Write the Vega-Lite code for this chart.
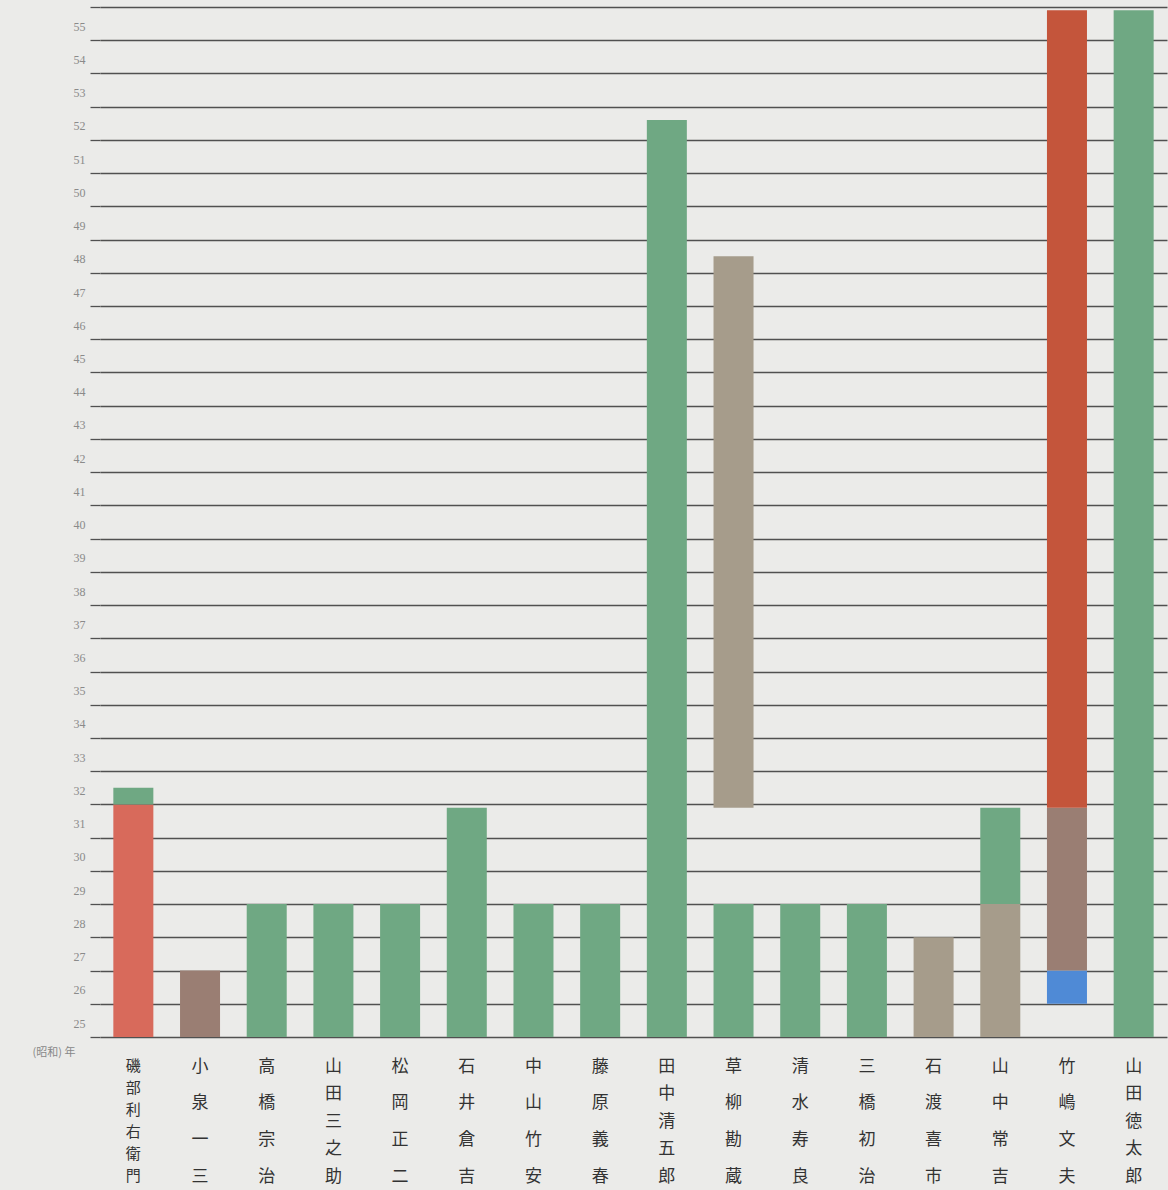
{
  "$schema": "https://vega.github.io/schema/vega-lite/v6.json",
  "autosize": "none",
  "padding": {"left": 100, "top": 7, "right": 1, "bottom": 153},
  "width": 1067,
  "height": 1030,
  "background": "#ebebe9",
  "data": {
    "values": [
      {"name": "磯部利右衛門", "start": 25, "end": 32, "cat": "赤"},
      {"name": "磯部利右衛門", "start": 32, "end": 32.5, "cat": "緑"},
      {"name": "小泉一三", "start": 25, "end": 27, "cat": "茶"},
      {"name": "高橋宗治", "start": 25, "end": 29, "cat": "緑"},
      {"name": "山田三之助", "start": 25, "end": 29, "cat": "緑"},
      {"name": "松岡正二", "start": 25, "end": 29, "cat": "緑"},
      {"name": "石井倉吉", "start": 25, "end": 31.9, "cat": "緑"},
      {"name": "中山竹安", "start": 25, "end": 29, "cat": "緑"},
      {"name": "藤原義春", "start": 25, "end": 29, "cat": "緑"},
      {"name": "田中清五郎", "start": 25, "end": 52.6, "cat": "緑"},
      {"name": "草柳勘蔵", "start": 25, "end": 29, "cat": "緑"},
      {"name": "草柳勘蔵", "start": 31.9, "end": 48.5, "cat": "灰"},
      {"name": "清水寿良", "start": 25, "end": 29, "cat": "緑"},
      {"name": "三橋初治", "start": 25, "end": 29, "cat": "緑"},
      {"name": "石渡喜市", "start": 25, "end": 28, "cat": "灰"},
      {"name": "山中常吉", "start": 25, "end": 29, "cat": "灰"},
      {"name": "山中常吉", "start": 29, "end": 31.9, "cat": "緑"},
      {"name": "竹嶋文夫", "start": 26, "end": 27, "cat": "青"},
      {"name": "竹嶋文夫", "start": 27, "end": 31.9, "cat": "茶"},
      {"name": "竹嶋文夫", "start": 31.9, "end": 55.9, "cat": "赤濃"},
      {"name": "山田徳太郎", "start": 25, "end": 55.9, "cat": "緑"}
    ]
  },
  "mark": {"type": "bar"},
  "encoding": {
    "x": {
      "field": "name",
      "type": "nominal",
      "sort": ["磯部利右衛門", "小泉一三", "高橋宗治", "山田三之助", "松岡正二", "石井倉吉", "中山竹安", "藤原義春", "田中清五郎", "草柳勘蔵", "清水寿良", "三橋初治", "石渡喜市", "山中常吉", "竹嶋文夫", "山田徳太郎"],
      "scale": {"paddingInner": 0.4, "paddingOuter": 0.2},
      "axis": {
        "title": null,
        "domain": false,
        "ticks": false,
        "labelAngle": 0,
        "labelAlign": "center",
        "labelBaseline": "top",
        "labelPadding": 21,
        "labelFont": "Noto Sans CJK JP",
        "labelFontSize": {"expr": "length(datum.label) > 5 ? 15 : 17"},
        "labelColor": "#333333",
        "labelLimit": 0,
        "labelOverlap": false,
        "labelExpr": "split(datum.label, '')",
        "labelLineHeight": {"expr": "110 / (length(datum.label) - 1)"}
      }
    },
    "y": {
      "field": "start",
      "type": "quantitative",
      "scale": {"domain": [25, 56], "nice": false, "zero": false},
      "axis": {
        "title": "(昭和) 年",
        "titleAngle": 0,
        "titleAlign": "right",
        "titleBaseline": "middle",
        "titleX": -25,
        "titleY": 1045,
        "titleFont": "Noto Sans CJK JP",
        "titleFontSize": 11,
        "titleFontWeight": "normal",
        "titleColor": "#888888",
        "values": [25, 26, 27, 28, 29, 30, 31, 32, 33, 34, 35, 36, 37, 38, 39, 40, 41, 42, 43, 44, 45, 46, 47, 48, 49, 50, 51, 52, 53, 54, 55, 56],
        "labelExpr": "datum.value >= 56 ? '' : datum.label",
        "labelOffset": -14,
        "labelPadding": 5,
        "labelFont": "Liberation Sans Narrow",
        "labelFontSize": 12,
        "labelColor": "#8a8a8a",
        "domain": false,
        "grid": true,
        "gridColor": "#505050",
        "gridWidth": 1.3,
        "gridOpacity": 1,
        "ticks": true,
        "tickSize": 10,
        "tickColor": "#505050",
        "tickWidth": 1.3
      }
    },
    "y2": {"field": "end"},
    "color": {
      "field": "cat",
      "type": "nominal",
      "legend": null,
      "scale": {
        "domain": ["緑", "赤", "赤濃", "茶", "灰", "青"],
        "range": ["#6fa883", "#d86a5b", "#c4553b", "#9a7e73", "#a69c8b", "#4f8ad6"]
      }
    }
  },
  "config": {
    "view": {"stroke": null}
  }
}
